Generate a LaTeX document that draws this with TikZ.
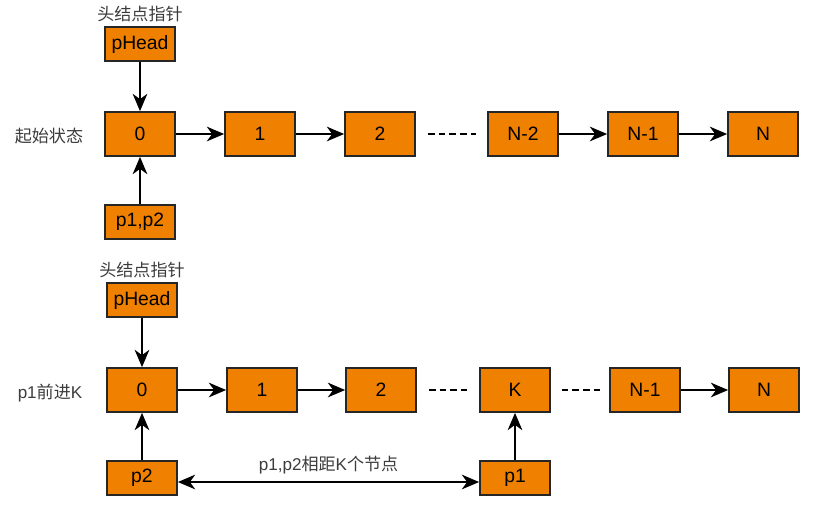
\documentclass[tikz,border=0pt]{standalone}
\usepackage{fontspec}
\setmainfont{Liberation Sans}
\newfontfamily\cjk{Noto Sans CJK SC}
\usetikzlibrary{arrows.meta}

\definecolor{nodeorange}{RGB}{240,128,0}
\definecolor{labelgray}{RGB}{60,60,60}

\begin{document}
\begin{tikzpicture}[x=0.75pt, y=-0.75pt,
    tip/.tip={Stealth[length=13pt, width=11pt, inset=4pt]},
    box/.style={draw=black!85, line width=1.3pt, fill=nodeorange, minimum width=52.5pt, minimum height=33pt, inner sep=0pt, font=\fontsize{14.5}{16}\selectfont},
    ptr/.style={box, minimum height=25.5pt},
    lbl/.style={text=labelgray, font=\fontsize{12.8}{14}\selectfont},
    link/.style={line width=1.4pt, -tip},
    gap/.style={line width=1.4pt, dash pattern=on 5pt off 3pt}]
    \useasboundingbox (0,0) rectangle (834,515);

    % initial state
    \node[lbl] (title1) at (140,14) {\cjk 头结点指针};
    \node[ptr] (head1) at (140,44) {pHead};
    \node[lbl] (state1) at (49,136) {\cjk 起始状态};
    \node[box] (a0) at (140,134) {0};
    \node[box] (a1) at (260,134) {1};
    \node[box] (a2) at (380,134) {2};
    \node[box] (an2) at (523,134) {N-2};
    \node[box] (an1) at (643,134) {N-1};
    \node[box] (an) at (763,134) {N};
    \node[ptr] (p12) at (140,222) {p1,p2};
    \draw[link] (head1) -- (a0);
    \draw[link] (p12) -- (a0);
    \draw[link] (a0) -- (a1);
    \draw[link] (a1) -- (a2);
    \draw[gap, shorten <=9pt, shorten >=8pt] (a2) -- (an2);
    \draw[link] (an2) -- (an1);
    \draw[link] (an1) -- (an);

    % p1 moved K steps
    \node[lbl] (title2) at (142,270) {\cjk 头结点指针};
    \node[ptr] (head2) at (142,300) {pHead};
    \node[lbl] (state2) at (50,393) {p1{\cjk 前进}K};
    \node[box] (b0) at (142,390) {0};
    \node[box] (b1) at (262,390) {1};
    \node[box] (b2) at (381,390) {2};
    \node[box] (bk) at (515,390) {K};
    \node[box] (bn1) at (645,390) {N-1};
    \node[box] (bn) at (764,390) {N};
    \node[ptr] (p2) at (142,478) {p2};
    \node[ptr] (p1) at (515,478) {p1};
    \draw[link] (head2) -- (b0);
    \draw[link] (p2) -- (b0);
    \draw[link] (p1) -- (bk);
    \draw[link] (b0) -- (b1);
    \draw[link] (b1) -- (b2);
    \draw[gap, shorten <=9pt, shorten >=9pt] (b2) -- (bk);
    \draw[gap, shorten <=8pt, shorten >=7pt] (bk) -- (bn1);
    \draw[link] (bn1) -- (bn);
    \draw[line width=1.4pt, tip-tip] ([yshift=-3pt]p2.east) -- node[lbl, above=2pt] {p1,p2{\cjk 相距}K{\cjk 个节点}} ([yshift=-3pt]p1.west);
\end{tikzpicture}
\end{document}
